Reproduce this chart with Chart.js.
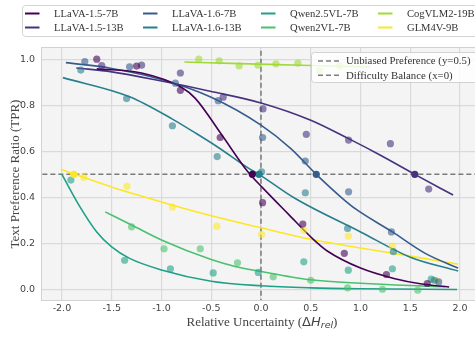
<!DOCTYPE html>
<html>
<head>
<meta charset="utf-8">
<script src="https://cdn.jsdelivr.net/npm/chart.js@4.4.0/dist/chart.umd.min.js"></script>
<style>
html, body { margin: 0; padding: 0; background: #fff; overflow: hidden; }
#wrap { position: relative; width: 482px; height: 337px; }
</style>
</head>
<body>
<div id="wrap"><canvas id="tprChart"></canvas></div>
<script>
// model names + viridis colours (legend order)
const modelNames = ['LLaVA-1.5-7B', 'LLaVA-1.5-13B', 'LLaVA-1.6-7B', 'LLaVA-1.6-13B',
	'Qwen2.5VL-7B', 'Qwen2VL-7B', 'CogVLM2-19B', 'GLM4V-9B'];
const modelColors = ['#440154', '#46327e', '#365c8d', '#277f8e', '#1fa187', '#4ac16d', '#a0da39', '#fde725'];

// measured points (relative uncertainty, TPR)
const obsX = [
	[-1.65, -1.25, -0.81, -0.41, 0.016, 0.42, 0.837, 1.26, 1.67],
	[-1.6, -1.2, -0.81, -0.38, 0.02, 0.455, 0.88, 1.3, 1.685],
	[-1.77, -1.32, -0.86, -0.43, 0.016, 0.445, 0.88, 1.31, 1.785],
	[-1.81, -1.35, -0.89, -0.44, 0.006, 0.445, 0.87, 1.33, 1.74],
	[-1.91, -1.37, -0.91, -0.48, -0.027, 0.43, 0.877, 1.32, 1.71],
	[-1.3, -0.974, -0.61, -0.236, 0.123, 0.5, 0.87, 1.22, 1.575],
	[-0.625, -0.42, -0.22, -0.03, 0.15, 0.37, 0.59, 0.79],
	[-1.78, -1.346, -0.89, -0.443, 0.006, 0.43, 0.877, 1.32, 1.76]
];
const obsY = [
	[1.0, 0.97, 0.865, 0.66, 0.377, 0.284, 0.157, 0.065, 0.026],
	[0.972, 0.974, 0.94, 0.835, 0.784, 0.674, 0.649, 0.633, 0.436],
	[0.99, 0.967, 0.896, 0.82, 0.66, 0.558, 0.424, 0.25, 0.033],
	[0.953, 0.829, 0.711, 0.577, 0.511, 0.42, 0.265, 0.164, 0.04],
	[0.475, 0.127, 0.09, 0.072, 0.074, 0.12, 0.084, 0.09, 0.045],
	[0.272, 0.177, 0.177, 0.116, 0.055, 0.04, 0.007, 0.001, -0.003],
	[1.0, 0.993, 0.971, 0.974, 0.98, 0.983, 0.949, 0.971],
	[0.487, 0.448, 0.358, 0.275, 0.239, 0.258, 0.232, 0.188, 0.04]
];

// fitted curves
const fitX = [
	[-1.65, -1.2, -0.8, -0.66, -0.4, -0.13, 0.02, 0.275, 0.52, 0.67, 1.0, 1.335, 1.6, 1.89],
	[-1.855, -1.5, -1.0, -0.5, 0, 0.5, 0.88, 1.2, 1.545, 1.93],
	[-1.96, -1.5, -1.0, -0.5, 0, 0.3, 0.555, 0.82, 0.95, 1.32, 1.65, 1.98],
	[-1.99, -1.32, -0.89, -0.66, -0.44, -0.13, -0.02, 0.34, 1.0, 1.5, 1.98],
	[-2.0, -1.82, -1.65, -1.5, -1.32, -1.0, -0.5, 0, 0.5, 1.0, 1.97],
	[-1.565, -1.3, -1.0, -0.5, -0.26, 0, 0.27, 0.5, 1.0, 1.5, 1.85],
	[-0.77, -0.3, 0.4, 1.1],
	[-2.0, -1.5, -1.0, -0.5, 0, 0.5, 1.0, 1.5, 1.98]
];
const fitY = [
	[0.958, 0.94, 0.878, 0.83, 0.675, 0.51, 0.44, 0.327, 0.22, 0.166, 0.093, 0.048, 0.025, 0.011],
	[0.962, 0.945, 0.905, 0.86, 0.81, 0.735, 0.655, 0.583, 0.5, 0.41],
	[0.985, 0.96, 0.912, 0.835, 0.714, 0.612, 0.5, 0.395, 0.35, 0.25, 0.157, 0.093],
	[0.92, 0.837, 0.74, 0.68, 0.62, 0.528, 0.5, 0.396, 0.25, 0.14, 0.08],
	[0.5, 0.36, 0.25, 0.185, 0.135, 0.085, 0.036, 0.016, 0.007, 0.003, 0.0],
	[0.337, 0.28, 0.215, 0.13, 0.1, 0.078, 0.057, 0.042, 0.027, 0.017, 0.012],
	[0.988, 0.982, 0.974, 0.966],
	[0.52, 0.445, 0.38, 0.32, 0.268, 0.218, 0.18, 0.145, 0.11]
];

// where each fit crosses TPR = 0.5 (null = no marker)
const crossX = [-0.087, 1.545, 0.555, -0.02, null, null, null, -1.88];

const xTicks = [-2.0, -1.5, -1.0, -0.5, 0, 0.5, 1.0, 1.5, 2.0];
const yTicks = [0, 0.2, 0.4, 0.6, 0.8, 1.0];

const SERIF = '"Liberation Serif", "DejaVu Serif", serif';
const SANS = '"DejaVu Sans", sans-serif';

function withAlpha(hex, a) {
	var r = parseInt(hex.slice(1, 3), 16), g = parseInt(hex.slice(3, 5), 16), b = parseInt(hex.slice(5, 7), 16);
	return 'rgba(' + r + ',' + g + ',' + b + ',' + a + ')';
}

var datasets = [];
// reference lines
datasets.push({
	data: [{x: -3, y: 0.5}, {x: 3, y: 0.5}],
	showLine: true, pointRadius: 0, borderColor: 'rgba(110,110,110,0.9)', borderWidth: 1.5,
	borderDash: [5, 3], order: 100
});
datasets.push({
	data: [{x: 0, y: -1}, {x: 0, y: 2}],
	showLine: true, pointRadius: 0, borderColor: 'rgba(110,110,110,0.9)', borderWidth: 1.5,
	borderDash: [5, 3], order: 100
});
modelNames.forEach(function(name, i) {
	datasets.push({
		label: name,
		data: fitX[i].map((x, k) => ({x: x, y: fitY[i][k]})),
		showLine: true, pointRadius: 0, borderColor: modelColors[i], borderWidth: 1.6,
		cubicInterpolationMode: 'monotone', order: 30
	});
	datasets.push({
		data: obsX[i].map((x, k) => ({x: x, y: obsY[i][k]})),
		backgroundColor: withAlpha(modelColors[i], 0.6), borderWidth: 0, pointRadius: 3.6, order: 20
	});
	if (crossX[i] !== null) {
		datasets.push({
			data: [{x: crossX[i], y: 0.5}],
			backgroundColor: modelColors[i], borderWidth: 0, pointRadius: 3.6, order: 10
		});
	}
});

// background, frame, legends and the x title
const plotDecor = {
	id: 'plotDecor',
	beforeDraw(chart) {
		const {ctx, chartArea: a} = chart;
		ctx.save();
		ctx.fillStyle = '#f4f4f4';
		ctx.fillRect(a.left, a.top, a.right - a.left, a.bottom - a.top);
		ctx.restore();
	},
	afterDatasetsDraw(chart) {
		const {ctx, chartArea: a} = chart;
		ctx.save();
		ctx.strokeStyle = '#d2d2d2';
		ctx.lineWidth = 1;
		ctx.strokeRect(a.left + 0.5, a.top + 0.5, a.right - a.left - 1, a.bottom - a.top - 1);

		// reference line legend
		ctx.fillStyle = 'rgba(255,255,255,0.8)';
		ctx.strokeStyle = 'rgba(205,205,205,0.9)';
		ctx.beginPath();
		ctx.roundRect(311.5, 52.5, 172, 30, 3);
		ctx.fill();
		ctx.stroke();
		var refLabels = ['Unbiased Preference (y=0.5)', 'Difficulty Balance (x=0)'];
		var rows = [61, 75.3];
		ctx.font = '10.8px ' + SERIF;
		ctx.textBaseline = 'middle';
		refLabels.forEach(function(t, k) {
			ctx.strokeStyle = 'rgba(110,110,110,0.9)';
			ctx.lineWidth = 1.5;
			ctx.setLineDash([5, 3]);
			ctx.beginPath();
			ctx.moveTo(318, rows[k]);
			ctx.lineTo(339, rows[k]);
			ctx.stroke();
			ctx.setLineDash([]);
			ctx.fillStyle = '#333';
			ctx.fillText(t, 346, rows[k] + 0.5);
		});
		ctx.restore();
	},
	afterDraw(chart) {
		const ctx = chart.ctx;
		ctx.save();
		// model legend, 4 columns x 2 rows
		ctx.fillStyle = '#fff';
		ctx.strokeStyle = '#d4d4d4';
		ctx.lineWidth = 1;
		ctx.beginPath();
		ctx.roundRect(22.5, 5.5, 470, 31, 3);
		ctx.fill();
		ctx.stroke();
		var colX = [25, 143, 261, 378];
		var rowY = [13.5, 27.5];
		ctx.font = '10.6px ' + SERIF;
		ctx.textBaseline = 'middle';
		modelNames.forEach(function(name, i) {
			var cx = colX[Math.floor(i / 2)], cy = rowY[i % 2];
			ctx.strokeStyle = modelColors[i];
			ctx.lineWidth = 2;
			ctx.beginPath();
			ctx.moveTo(cx, cy);
			ctx.lineTo(cx + 14.5, cy);
			ctx.stroke();
			ctx.fillStyle = '#333';
			ctx.fillText(name, cx + 29, cy + 0.5);
		});

		// x title with math part
		var parts = [
			{t: 'Relative Uncertainty (', f: '13px ' + SERIF, dy: 0},
			{t: 'Δ', f: '13px ' + SANS, dy: 0},
			{t: 'H', f: 'italic 13px ' + SANS, dy: 0},
			{t: 'rel', f: 'italic 9.5px ' + SANS, dy: 3},
			{t: ')', f: '13px ' + SERIF, dy: 0}
		];
		var total = 0;
		parts.forEach(function(p) { ctx.font = p.f; p.w = ctx.measureText(p.t).width; total += p.w; });
		var x = 262 - total / 2, y = 322.5;
		ctx.fillStyle = '#444';
		ctx.textBaseline = 'middle';
		parts.forEach(function(p) {
			ctx.font = p.f;
			ctx.fillText(p.t, x, y + p.dy);
			x += p.w;
		});
		ctx.restore();
	}
};

const ctxT = document.getElementById('tprChart');

var tprChart = new Chart(ctxT, {
	type: 'scatter',
	data: {datasets: datasets},
	options: {
		responsive: true,
		maintainAspectRatio: false,
		animation: false,
		layout: {padding: {top: 47, right: 2, left: 0, bottom: 0}},
		plugins: {legend: {display: false}, tooltip: {enabled: false}},
		scales: {
			x: {
				type: 'linear', min: -2.21, max: 2.18,
				afterFit: s => { s.height = 36; },
				afterBuildTicks: s => { s.ticks = xTicks.map(v => ({value: v})); },
				ticks: {padding: 2, color: '#444', font: {family: SANS, size: 9.5}, callback: v => v.toFixed(1)},
				grid: {color: '#dadada', lineWidth: 1.2, drawTicks: false},
				border: {display: false}
			},
			y: {
				type: 'linear', min: -0.05, max: 1.053,
				afterFit: s => { s.width = 41; },
				afterBuildTicks: s => { s.ticks = yTicks.map(v => ({value: v})); },
				ticks: {padding: 6, color: '#444', font: {family: SANS, size: 9.5}, callback: v => v.toFixed(1)},
				grid: {color: '#dadada', lineWidth: 1.2, drawTicks: false},
				border: {display: false},
				title: {display: true, text: 'Text Preference Ratio (TPR)', color: '#444',
					font: {family: SERIF, size: 13}, padding: {top: 8, bottom: 0}}
			}
		}
	},
	plugins: [plotDecor]
});
</script>
</body>
</html>
